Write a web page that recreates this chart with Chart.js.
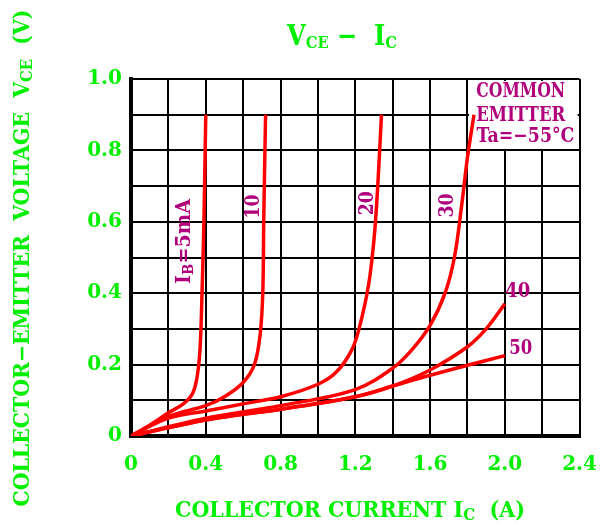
<!DOCTYPE html>
<html lang="en">
<head>
<meta charset="UTF-8">
<script src="https://cdn.jsdelivr.net/npm/chart.js"></script>
<style>
  body { margin: 0; background: #fff; }
  #wrap { width: 614px; height: 526px; }
</style>
</head>
<body>
<div id="wrap"><canvas id="vce"></canvas></div>
<script>
// collector current (A) / collector-emitter voltage (V)
const ib5_i  = [0, 0.1, 0.2, 0.28, 0.33, 0.355, 0.37, 0.38, 0.39, 0.40];
const ib5_v  = [0, 0.03, 0.065, 0.09, 0.12, 0.17, 0.25, 0.4, 0.6, 0.9];
const ib10_i = [0, 0.2, 0.4, 0.5, 0.6, 0.66, 0.69, 0.705, 0.71, 0.72];
const ib10_v = [0, 0.055, 0.085, 0.11, 0.15, 0.2, 0.28, 0.4, 0.6, 0.9];
const ib20_i = [0, 0.2, 0.4, 0.6, 0.8, 1.0, 1.1, 1.18, 1.22, 1.27, 1.3, 1.32, 1.34];
const ib20_v = [0, 0.05, 0.07, 0.09, 0.11, 0.145, 0.18, 0.24, 0.3, 0.42, 0.55, 0.7, 0.9];
const ib30_i = [0, 0.4, 0.8, 1.2, 1.4, 1.5, 1.6, 1.68, 1.73, 1.77, 1.8, 1.835];
const ib30_v = [0, 0.05, 0.085, 0.13, 0.19, 0.24, 0.31, 0.4, 0.5, 0.65, 0.78, 0.9];
const ib40_i = [0, 0.4, 0.8, 1.2, 1.4, 1.6, 1.8, 1.9, 2.0];
const ib40_v = [0, 0.045, 0.075, 0.11, 0.14, 0.185, 0.25, 0.3, 0.37];
const ib50_i = [0, 0.4, 0.8, 1.2, 1.4, 1.6, 1.8, 2.0];
const ib50_v = [0, 0.045, 0.075, 0.11, 0.14, 0.17, 0.198, 0.225];

const xTicks = ['0', '0.4', '0.8', '1.2', '1.6', '2.0', '2.4'];
const yTicks = ['0', '0.2', '0.4', '0.6', '0.8', '1.0'];

const GREEN = '#00f000';
const PURPLE = '#b0007c';
const FONT = '"DejaVu Serif"';

function pts(xs, ys) {
  return xs.map((x, k) => ({ x: x, y: ys[k] }));
}

// draws text made of pieces (normal / subscript), squeezed to a given width
function drawRich(ctx, parts, cx, cy, width, color) {
  ctx.save();
  ctx.fillStyle = color;
  ctx.textBaseline = 'middle';
  let w = 0;
  parts.forEach(p => {
    ctx.font = 'bold ' + p.s + 'px ' + FONT;
    p.w = ctx.measureText(p.t).width;
    w += p.w;
  });
  const sx = width ? width / w : 1;
  ctx.translate(cx, cy);
  ctx.scale(sx, 1);
  let x = -w / 2;
  parts.forEach(p => {
    ctx.font = 'bold ' + p.s + 'px ' + FONT;
    ctx.fillText(p.t, x, p.dy || 0);
    x += p.w;
  });
  ctx.restore();
}

const overlay = {
  id: 'overlay',
  beforeDatasetsDraw(chart) {
    // blank patch behind the COMMON EMITTER note
    const { ctx, scales: { x, y } } = chart;
    ctx.save();
    ctx.fillStyle = '#fff';
    const x0 = x.getPixelForValue(1.8) + 1.5, x1 = x.getPixelForValue(2.4) - 2;
    const y0 = y.getPixelForValue(1.0) + 2, y1 = y.getPixelForValue(0.8) - 1.5;
    ctx.fillRect(x0, y0, x1 - x0, y1 - y0);
    ctx.restore();
  },
  afterDraw(chart) {
    const { ctx, scales: { x, y } } = chart;
    // title
    drawRich(ctx, [
      { t: 'V', s: 28 }, { t: 'CE', s: 17, dy: 6 },
      { t: ' \u2212  ', s: 28 }, { t: 'I', s: 28 }, { t: 'C', s: 17, dy: 6 }
    ], 342, 38, 110, GREEN);
    // x axis title
    drawRich(ctx, [
      { t: 'COLLECTOR CURRENT I', s: 22 }, { t: 'C', s: 16, dy: 5 }, { t: '  (A)', s: 22 }
    ], 350, 511, 350, GREEN);
    // y axis title
    ctx.save();
    ctx.translate(23, 258);
    ctx.rotate(-Math.PI / 2);
    drawRich(ctx, [
      { t: 'COLLECTOR\u2212EMITTER  VOLTAGE  V', s: 22 }, { t: 'CE', s: 16, dy: 5 }, { t: '  (V)', s: 22 }
    ], 0, 0, 497, GREEN);
    ctx.restore();

    // curve labels
    const lbl = (t, xi, yv, w) => drawRich(ctx, [{ t: t, s: 20 }],
      x.getPixelForValue(xi), y.getPixelForValue(yv), w, PURPLE);
    ctx.save();
    ctx.translate(x.getPixelForValue(0.29), y.getPixelForValue(0.545));
    ctx.rotate(-Math.PI / 2);
    drawRich(ctx, [{ t: 'I', s: 20 }, { t: 'B', s: 14, dy: 4 }, { t: '=5mA', s: 20 }], 0, 0, 85, PURPLE);
    ctx.restore();
    [['10', 0.656, 0.643], ['20', 1.269, 0.652], ['30', 1.696, 0.646]].forEach(l => {
      ctx.save();
      ctx.translate(x.getPixelForValue(l[1]), y.getPixelForValue(l[2]));
      ctx.rotate(-Math.PI / 2);
      drawRich(ctx, [{ t: l[0], s: 20 }], 0, 0, 24, PURPLE);
      ctx.restore();
    });
    lbl('40', 2.069, 0.404, 25);
    lbl('50', 2.085, 0.244, 23);
    lbl('COMMON', 2.085, 0.963, 89);
    lbl('EMITTER', 2.085, 0.896, 89);
    lbl('Ta=\u221255\u00b0C', 2.11, 0.837, 98);
  }
};

const curve = (data) => ({
  data: data,
  showLine: true,
  borderColor: '#ff0000',
  borderWidth: 3.5,
  pointRadius: 0,
  tension: 0.35,
  fill: false
});

new Chart(document.getElementById('vce'), {
  type: 'scatter',
  data: {
    datasets: [
      curve(pts(ib5_i, ib5_v)),
      curve(pts(ib10_i, ib10_v)),
      curve(pts(ib20_i, ib20_v)),
      curve(pts(ib30_i, ib30_v)),
      curve(pts(ib40_i, ib40_v)),
      curve(pts(ib50_i, ib50_v))
    ]
  },
  options: {
    responsive: true,
    maintainAspectRatio: false,
    animation: false,
    layout: { padding: { top: 79, right: 33, left: 0, bottom: 0 } },
    plugins: { legend: { display: false }, tooltip: { enabled: false } },
    scales: {
      x: {
        type: 'linear',
        min: 0, max: 2.4,
        afterFit: s => { s.height = 90; },
        grid: { color: '#000', lineWidth: 2, drawTicks: false },
        border: { color: '#000', width: 4 },
        ticks: {
          stepSize: 0.2,
          padding: 17,
          maxRotation: 0,
          autoSkip: false,
          color: GREEN,
          font: { family: FONT, size: 20, weight: 'bold' },
          callback: v => {
            const k = Math.round(v * 10);
            return k % 4 === 0 ? xTicks[k / 4] : '';
          }
        }
      },
      y: {
        type: 'linear',
        min: 0, max: 1.0,
        afterFit: s => { s.width = 131; },
        grid: { color: '#000', lineWidth: 2, drawTicks: false },
        border: { color: '#000', width: 4 },
        ticks: {
          stepSize: 0.1,
          padding: 9,
          autoSkip: false,
          color: GREEN,
          font: { family: FONT, size: 20, weight: 'bold' },
          callback: v => {
            const k = Math.round(v * 10);
            return k % 2 === 0 ? yTicks[k / 2] : '';
          }
        }
      }
    }
  },
  plugins: [overlay]
});
</script>
</body>
</html>
